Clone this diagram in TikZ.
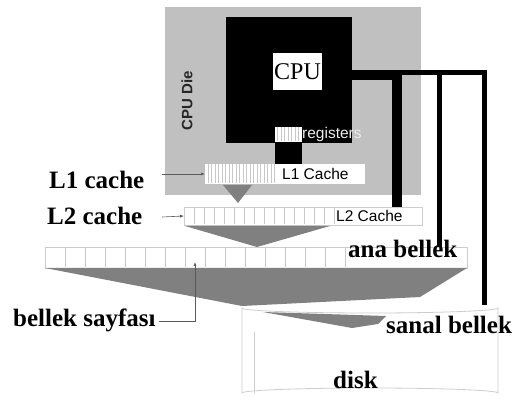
\documentclass[tikz,border=0pt]{standalone}
\usepackage{fontspec}
\setmainfont{Liberation Serif}
\newfontfamily\sansf{Liberation Sans}
\usetikzlibrary{arrows.meta}
\definecolor{diegray}{RGB}{192,192,192}
\definecolor{funnelgray}{RGB}{128,128,128}
\definecolor{celline}{RGB}{200,200,200}
\definecolor{boxline}{RGB}{205,205,205}
\definecolor{arrgray}{RGB}{90,90,90}
\begin{document}
\begin{tikzpicture}[x=1pt,y=-1pt,
  blk/.style={inner sep=0pt, outer sep=0pt, anchor=north west},
  lbl/.style={inner sep=0pt, anchor=base west, font=\bfseries\fontsize{25}{25}\selectfont},
  slbl/.style={inner sep=0pt, anchor=west, font=\sansf\fontsize{15.5}{15.5}\selectfont},
  bus/.style={draw=black, line cap=butt},
  ptr/.style={draw=arrgray, line width=0.6pt, -{Latex[length=4pt,width=3pt]}},
  funnel/.style={fill=funnelgray}]
\useasboundingbox (0,0) rectangle (512,401);
\fill[white] (0,0) rectangle (512,401);

% CPU die
\node[blk, fill=diegray, minimum width=256pt, minimum height=188pt] (die) at (165,7) {};
\node[inner sep=0pt, rotate=90, font=\sansf\bfseries\fontsize{15}{15}\selectfont, text=black!85] (dielbl) at (187,101) {CPU Die};

% bus lines
\coordinate (b0) at (352,75);
\coordinate (b1) at (397,75);
\coordinate (t0) at (397,72.5);
\coordinate (t1) at (439.5,72.5);
\coordinate (t2) at (484.5,72.5);
\draw[bus, line width=10pt] (b0) -- (b1);
\draw[bus, line width=10pt] (397,70) -- (397,207);
\draw[bus, line width=5pt] (395,72.5) -- (487,72.5);
\draw[bus, line width=5pt] (439.5,70) -- (439.5,247);
\draw[bus, line width=5pt] (484.5,70) -- (484.5,305);

% CPU
\node[blk, fill=black, minimum width=126pt, minimum height=126pt] (cpu) at (226,17) {};
\node[fill=white, inner sep=0pt, minimum width=49pt, minimum height=37pt, font=\fontsize{24}{24}\selectfont] (cpulbl) at (297.5,71.5) {CPU};

% registers
\node[blk, fill=white, minimum width=27pt, minimum height=15pt] (regs) at (275,127) {};
\foreach \x in {277.5,281,...,300} \draw[celline, line width=0.8pt] (\x,127.5) -- (\x,141.5);
\node[slbl, text=white!93!black] (regtxt) at (302,134) {registers};
\node[blk, fill=black, minimum width=27pt, minimum height=22pt] (link) at (275,142) {};

% L1 cache
\node[blk, fill=white, minimum width=160pt, minimum height=20pt] (l1) at (205,164) {};
\foreach \x in {208,211.5,...,277} \draw[celline, line width=0.8pt] (\x,164.5) -- (\x,183.5);
\node[slbl] (l1txt) at (282,174) {L1 Cache};
\fill[funnel] (223,185) -- (252,185) -- (238,203) -- cycle;

% L2 cache
\node[blk, draw=boxline, line width=0.8pt, fill=white, minimum width=238pt, minimum height=18pt] (l2) at (184,207) {};
\foreach \x in {194,204,...,334} \draw[celline, line width=0.8pt] (\x,207.5) -- (\x,224.5);
\node[slbl] (l2txt) at (336,216) {L2 Cache};
\fill[funnel] (185,226) -- (330,226) -- (257,247) -- cycle;

% main memory
\node[blk, draw=boxline, line width=0.8pt, fill=white, minimum width=422pt, minimum height=21pt] (ram) at (45,247) {};
\foreach \x in {65,85,...,345} \draw[celline, line width=1pt] (\x,247.5) -- (\x,267.5);
\fill[funnel] (45,268) -- (467,268) -- (420,297) -- (242,306) -- cycle;

% disk
\draw[boxline, fill=white, line width=0.8pt]
  (242,308) -- (242,393) arc[start angle=180, end angle=360, x radius=128, y radius=5]
  -- (498,308) arc[start angle=0, end angle=180, x radius=128, y radius=5] -- cycle;
\node[inner sep=0pt, minimum width=256pt, minimum height=90pt, anchor=north west] (disk) at (242,308) {};
\draw[boxline, line width=0.8pt] (254,332) -- (254,393);
\fill[funnel] (263,312) -- (386,316) -- (378,324) -- (352,328) -- cycle;

% labels
\node[lbl] (l1lbl) at (49,189) {L1 cache};
\node[lbl] (l2lbl) at (47,225) {L2 cache};
\node[lbl] (ramlbl) at (348,258) {ana bellek};
\node[lbl] (pglbl) at (13,326) {bellek sayfası};
\node[lbl] (vmlbl) at (386,333) {sanal bellek};
\node[lbl] (disklbl) at (333,388) {disk};

% pointers
\draw[ptr] (162,174) -- (l1.west);
\draw[ptr] (162,217) -- (l2.west);
\coordinate (pgc) at (195,321);
\draw[ptr] (pglbl.east |- pgc) ++(3,0) -- (pgc) -- (195,262);
\end{tikzpicture}
\end{document}
